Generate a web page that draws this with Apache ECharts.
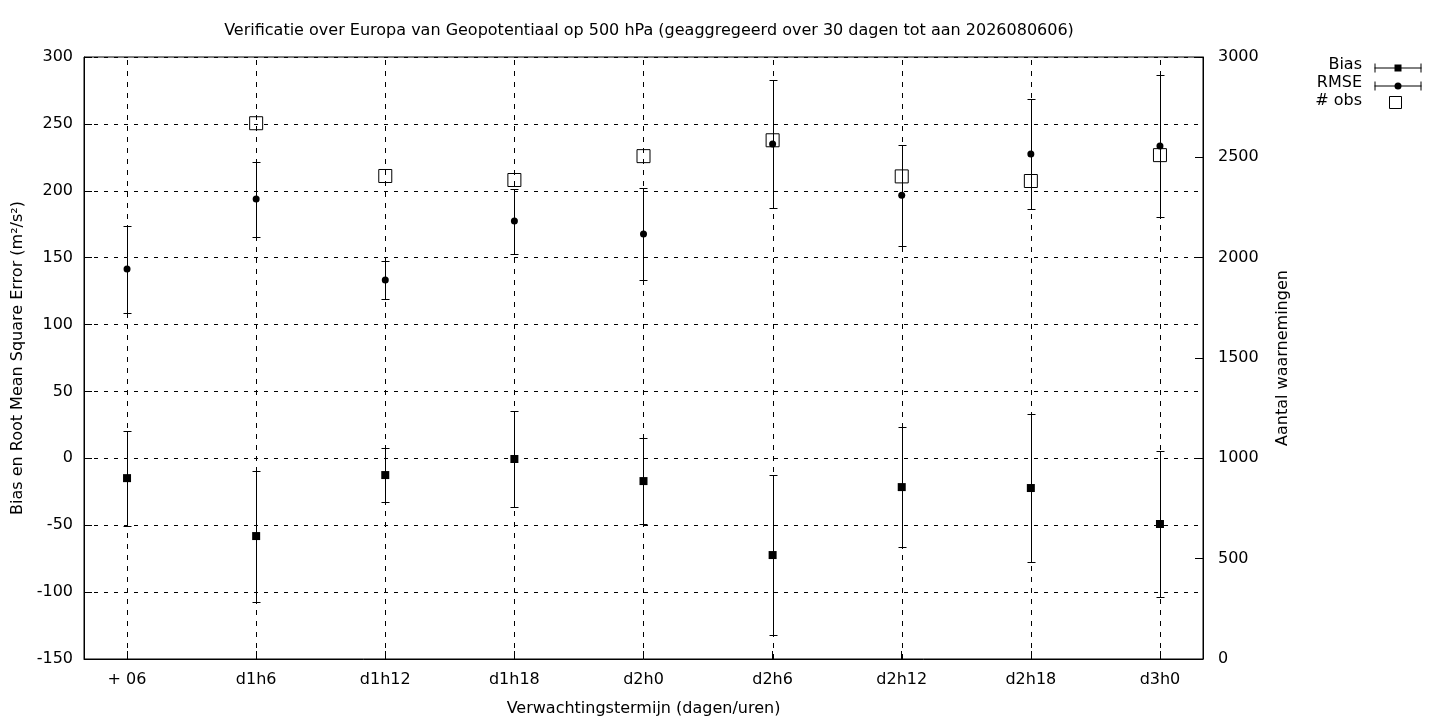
<!DOCTYPE html>
<html>
<head>
<meta charset="utf-8">
<script src="https://cdn.jsdelivr.net/npm/echarts@6/dist/echarts.min.js"></script>
<style>html,body{margin:0;padding:0;background:#fff}#c{width:1440px;height:720px}</style>
</head>
<body>
<div id="c"></div>
<script>
var categories = ['+ 06', 'd1h6', 'd1h12', 'd1h18', 'd2h0', 'd2h6', 'd2h12', 'd2h18', 'd3h0'];
var biasValues = [-14.8, -58.1, -12.5, -0.5, -17, -72.3, -21.5, -22.2, -49.1];
var biasSpread = [35.5, 49, 20, 36, 32, 59.5, 45, 55, 54.5];
var rmseValues = [141.5, 193.8, 133.3, 177.4, 167.6, 235, 196.6, 227.5, 233.5];
var rmseSpread = [32.5, 28, 14.2, 24.3, 34.3, 48, 37.8, 41, 53];
var obsValues = [null, 2670, 2407, 2387, 2506, 2585, 2405, 2382, 2511];
var leftTicks = [-150, -100, -50, 0, 50, 100, 150, 200, 250, 300];
var rightTicks = [0, 500, 1000, 1500, 2000, 2500, 3000];

var FONT = 'DejaVu Sans';
var FS = 16;
var chart = echarts.init(document.getElementById('c'), null, {renderer: 'canvas'});

function pts(vals) { return vals.map(function (v, i) { return [i, v]; }); }
function bars(vals, sp) { return vals.map(function (v, i) { return [i, v - sp[i], v + sp[i]]; }); }

function errRender(params, api) {
  var x = api.value(0);
  var a = api.coord([x, api.value(1)]);
  var b = api.coord([x, api.value(2)]);
  var px = Math.round(a[0]) + 0.5;
  var ya = Math.round(a[1]) + 0.5, yb = Math.round(b[1]) + 0.5;
  var w = 4;
  var st = {stroke: '#000', lineWidth: 1};
  return {type: 'group', children: [
    {type: 'line', shape: {x1: px, y1: ya, x2: px, y2: yb}, style: st},
    {type: 'line', shape: {x1: px - w, y1: ya, x2: px + w, y2: ya}, style: st},
    {type: 'line', shape: {x1: px - w, y1: yb, x2: px + w, y2: yb}, style: st}
  ]};
}

function vgridRender(params, api) {
  var cs = params.coordSys;
  var p = api.coord([api.value(0), 0]);
  var px = Math.round(p[0]) + 0.5;
  return {type: 'line', shape: {x1: px, y1: cs.y + cs.height, x2: px, y2: cs.y},
    style: {stroke: '#000', lineWidth: 1, lineDash: [5, 6]}};
}

var idx = categories.map(function (c, i) { return i; });

var option = {
  animation: false,
  backgroundColor: '#fff',
  textStyle: {fontFamily: FONT},
  title: {
    text: 'Verificatie over Europa van Geopotentiaal op 500 hPa (geaggregeerd over 30 dagen tot aan 2026080606)',
    left: 644, top: 18, textAlign: 'center',
    textStyle: {fontFamily: FONT, fontSize: FS, fontWeight: 'normal', color: '#000'}
  },
  grid: {left: 84, right: 237, top: 57, bottom: 61, containLabel: false, outerBoundsMode: 'none',
    show: true, borderColor: '#000', borderWidth: 1, backgroundColor: 'transparent'},
  xAxis: {
    type: 'value', min: -1 / 3, max: 25 / 3,
    name: 'Verwachtingstermijn (dagen/uren)', nameLocation: 'middle', nameGap: 42,
    nameTextStyle: {fontFamily: FONT, fontSize: FS, color: '#000'},
    axisLine: {onZero: false, lineStyle: {color: '#000', width: 1}},
    axisTick: {show: true, inside: true, length: 8, customValues: idx, lineStyle: {color: '#000'}},
    axisLabel: {customValues: idx, margin: 13, fontFamily: FONT, fontSize: FS, color: '#000',
      formatter: function (v) { return categories[Math.round(v)]; }},
    splitLine: {show: false}
  },
  yAxis: [{
    type: 'value', min: -150, max: 300, interval: 50, position: 'left',
    name: 'Bias en Root Mean Square Error (m\u00b2/s\u00b2)', nameLocation: 'middle', nameGap: 57,
    nameTextStyle: {fontFamily: FONT, fontSize: FS, color: '#000'},
    axisLine: {show: true, onZero: false, lineStyle: {color: '#000'}},
    axisTick: {show: true, inside: true, length: 8, lineStyle: {color: '#000'}},
    axisLabel: {margin: 11, fontFamily: FONT, fontSize: FS, color: '#000',
      formatter: function (v) { return leftTicks.indexOf(v) >= 0 ? String(v) : ''; }},
    splitLine: {show: true, lineStyle: {color: '#000', width: 1, type: [4, 6]}}
  }, {
    type: 'value', min: 0, max: 3000, interval: 500, position: 'right',
    name: 'Aantal waarnemingen', nameLocation: 'middle', nameGap: 72, nameRotate: 90,
    nameTextStyle: {fontFamily: FONT, fontSize: FS, color: '#000'},
    axisLine: {show: true, onZero: false, lineStyle: {color: '#000'}},
    axisTick: {show: true, inside: true, length: 8, lineStyle: {color: '#000'}},
    axisLabel: {margin: 15, fontFamily: FONT, fontSize: FS, color: '#000',
      formatter: function (v) { return rightTicks.indexOf(v) >= 0 ? String(v) : ''; }},
    splitLine: {show: false}
  }],
  series: [
    {type: 'custom', name: 'vgrid', renderItem: vgridRender, data: idx.map(function (i) { return [i]; }),
      encode: {x: 0}, silent: true, z: 1},
    {type: 'custom', name: 'Bias err', renderItem: errRender, data: bars(biasValues, biasSpread), encode: {x: 0, y: [1, 2]}, silent: true, z: 3},
    {type: 'custom', name: 'RMSE err', renderItem: errRender, data: bars(rmseValues, rmseSpread), encode: {x: 0, y: [1, 2]}, silent: true, z: 3},
    {type: 'scatter', name: 'Bias', data: pts(biasValues), symbol: 'rect', symbolSize: 8, itemStyle: {color: '#000', opacity: 1}, z: 4},
    {type: 'scatter', name: 'RMSE', data: pts(rmseValues), symbol: 'circle', symbolSize: 7, itemStyle: {color: '#000', opacity: 1}, z: 4},
    {type: 'scatter', name: '# obs', yAxisIndex: 1, data: pts(obsValues), symbol: 'rect', symbolSize: 13,
      itemStyle: {color: 'rgba(0,0,0,0)', borderColor: '#000', borderWidth: 1, opacity: 1}, z: 5}
  ],
  graphic: [
    {type: 'text', right: 1440 - 1362, top: 57, style: {text: 'Bias', font: FS + 'px "DejaVu Sans"', fill: '#000', textAlign: 'right'}},
    {type: 'text', right: 1440 - 1362, top: 75, style: {text: 'RMSE', font: FS + 'px "DejaVu Sans"', fill: '#000', textAlign: 'right'}},
    {type: 'text', right: 1440 - 1362, top: 93, style: {text: '# obs', font: FS + 'px "DejaVu Sans"', fill: '#000', textAlign: 'right'}},
    {type: 'group', left: 1372, top: 61, children: [
      {type: 'line', shape: {x1: 0, y1: 4.5, x2: 47, y2: 4.5}, style: {stroke: '#000', lineWidth: 1}},
      {type: 'line', shape: {x1: 0.5, y1: 0, x2: 0.5, y2: 9}, style: {stroke: '#000', lineWidth: 1}},
      {type: 'line', shape: {x1: 46.5, y1: 0, x2: 46.5, y2: 9}, style: {stroke: '#000', lineWidth: 1}},
      {type: 'rect', shape: {x: 20, y: 1, width: 7, height: 7}, style: {fill: '#000'}}
    ]},
    {type: 'group', left: 1372, top: 79, children: [
      {type: 'line', shape: {x1: 0, y1: 4.5, x2: 47, y2: 4.5}, style: {stroke: '#000', lineWidth: 1}},
      {type: 'line', shape: {x1: 0.5, y1: 0, x2: 0.5, y2: 9}, style: {stroke: '#000', lineWidth: 1}},
      {type: 'line', shape: {x1: 46.5, y1: 0, x2: 46.5, y2: 9}, style: {stroke: '#000', lineWidth: 1}},
      {type: 'circle', shape: {cx: 23.5, cy: 4.5, r: 3.5}, style: {fill: '#000'}}
    ]},
    {type: 'rect', left: 1389, top: 96, shape: {x: 0.5, y: 0.5, width: 12, height: 12}, style: {fill: 'transparent', stroke: '#000', lineWidth: 1}}
  ]
};
chart.setOption(option);
</script>
</body>
</html>
